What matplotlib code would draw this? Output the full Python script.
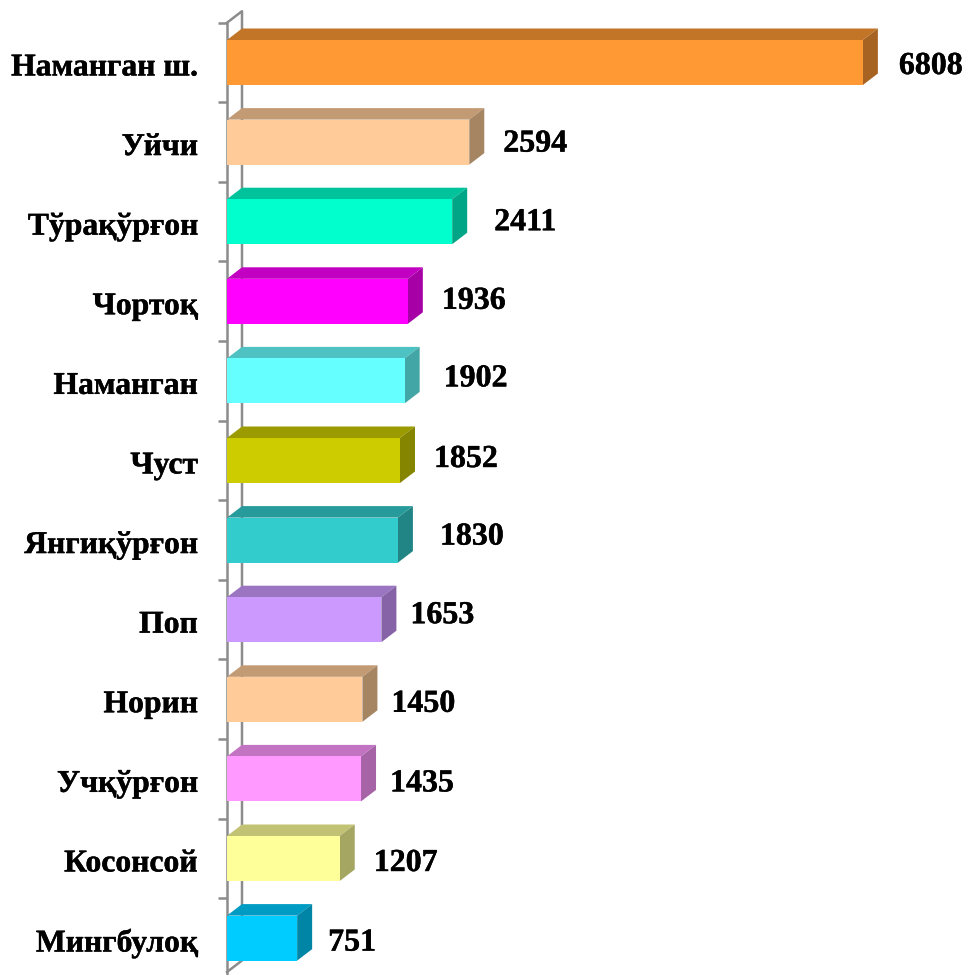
import matplotlib
matplotlib.use("Agg")
import matplotlib.pyplot as plt
import matplotlib.patheffects as pe
from matplotlib.colors import to_rgb
from matplotlib.patches import Polygon
from matplotlib.transforms import ScaledTranslation

districts = ["Наманган ш.", "Уйчи", "Тўрақўрғон", "Чортоқ", "Наманган", "Чуст",
             "Янгиқўрғон", "Поп", "Норин", "Учқўрғон", "Косонсой", "Мингбулоқ"]
values = [6808, 2594, 2411, 1936, 1902, 1852, 1830, 1653, 1450, 1435, 1207, 751]
colors = ["#FF9933", "#FFCC99", "#00FFCC", "#FF00FF", "#66FFFF", "#CCCC00",
          "#33CCCC", "#CC99FF", "#FFCC99", "#FF99FF", "#FFFF99", "#00CCFF"]

# hand placed value labels, pixels from bar end / from bar centre
label_gap = [36, 34, 42, 34, 39, 34, 42, 29, 29, 29, 34, 31]
label_dy = [4, 2, 1, 0, -2, -1, -3, -4, 5, 5, 5, 5]

W, H = 968, 975
PX_X = 0.0934  # pixels per unit
PX_Y = 79.6    # pixels per category
LEFT = 227
TOP_CAT = 62.5
DEPTH_X = 15 / PX_X
DEPTH_Y = 11.5 / PX_Y
BAR_H = 45 / PX_Y
AXIS = "#8C8C8C"
BOLD = [pe.withStroke(linewidth=0.3, foreground="black")]


def shade(color, k):
    return tuple(c * k for c in to_rgb(color))


plt.rcParams["font.family"] = ["Liberation Serif", "DejaVu Serif"]
fig = plt.figure(figsize=(W / 100, H / 100), dpi=100)
ax = fig.add_axes([LEFT / W, 0, (W - LEFT) / W, 1])
ax.set_xlim(0, (W - LEFT) / PX_X)
ax.set_ylim((H - TOP_CAT) / PX_Y, -TOP_CAT / PX_Y)
ax.patch.set_visible(False)

ypos = list(range(len(values)))
ax.barh(ypos, values, height=BAR_H, color=colors, edgecolor="none", zorder=3)

for y, v, c, gap, dy in zip(ypos, values, colors, label_gap, label_dy):
    top = y - BAR_H / 2
    bottom = y + BAR_H / 2
    ax.add_patch(Polygon([(0, top), (v, top), (v + DEPTH_X, top - DEPTH_Y), (DEPTH_X, top - DEPTH_Y)],
                         facecolor=shade(c, 0.76), edgecolor="none", zorder=2))
    ax.add_patch(Polygon([(v, top), (v + DEPTH_X, top - DEPTH_Y), (v + DEPTH_X, bottom - DEPTH_Y), (v, bottom)],
                         facecolor=shade(c, 0.65), edgecolor="none", zorder=2))
    ax.annotate(str(v), (v, y), xytext=(gap * 0.72, -dy * 0.72), textcoords="offset points",
                ha="left", va="center", fontsize=23, fontweight="bold", color="black", zorder=4,
                path_effects=BOLD)

# 3d wall of the category axis
y_top = -0.5
y_bot = (972 - TOP_CAT) / PX_Y
ax.plot([0, DEPTH_X, DEPTH_X, 0], [y_top, y_top - DEPTH_Y, y_bot - DEPTH_Y, y_bot],
        color=AXIS, lw=1.8, zorder=1, clip_on=False)

for side in ["top", "right", "bottom"]:
    ax.spines[side].set_visible(False)
ax.spines["left"].set_color(AXIS)
ax.spines["left"].set_linewidth(1.8)
ax.spines["left"].set_bounds(y_top, (H - TOP_CAT) / PX_Y)
ax.spines["left"].set_zorder(1)

ax.set_xticks([])
ax.set_yticks(ypos)
ax.set_yticklabels(districts, fontsize=22.8, fontweight="bold", color="black", path_effects=BOLD)
ax.tick_params(axis="y", which="major", length=0, pad=21)
ax.set_yticks([i - 0.5 for i in ypos], minor=True)
ax.tick_params(axis="y", which="minor", length=6.5, width=1.8, color=AXIS)

# names sit a little lower than the bar centres
shift = ScaledTranslation(0, -1.4 / 72, fig.dpi_scale_trans)
for lab in ax.get_yticklabels():
    lab.set_transform(lab.get_transform() + shift)

fig.savefig("out.png", dpi=100)
plt.close(fig)
